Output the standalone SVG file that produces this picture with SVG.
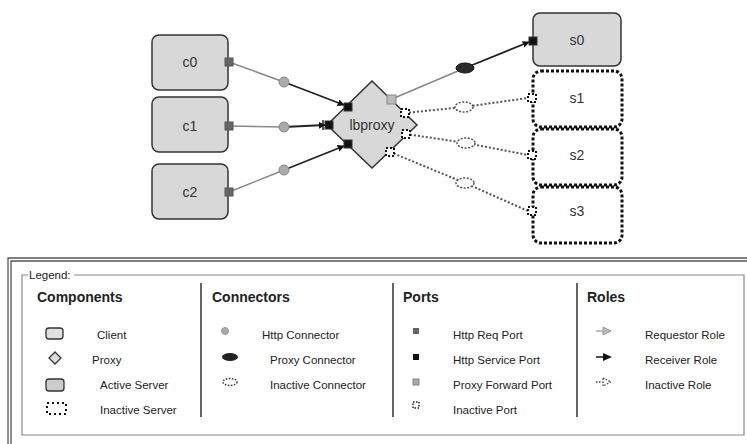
<svg xmlns="http://www.w3.org/2000/svg" width="747" height="444" viewBox="0 0 747 444">
<defs>
<style>
.node{fill:#d8d8d8;stroke:#333;stroke-width:1.5}
.inact{fill:#fff;stroke:#111;stroke-width:3;stroke-dasharray:3 2}
.lbl{font-family:"Liberation Sans",Arial,sans-serif;font-size:14px;fill:#333;text-anchor:middle;dominant-baseline:central}
.req{stroke:#888;stroke-width:1.5;fill:none}
.rcv{stroke:#222;stroke-width:1.8;fill:none}
.dot{stroke:#555;stroke-width:2;stroke-dasharray:2 2;fill:none}
.http{fill:#aaa;stroke:#888;stroke-width:1}
.svc{fill:#111;stroke:#333;stroke-width:1}
.hreq{fill:#666;stroke:#555;stroke-width:1}
.fwd{fill:#bbb;stroke:#888;stroke-width:1}
.iport{fill:#fff;stroke:#111;stroke-width:2;stroke-dasharray:2 2}
.iconn{fill:#fff;stroke:#555;stroke-width:1.5;stroke-dasharray:2 1.5}
.pconn{fill:#2a2a2a;stroke:#111;stroke-width:1}
.t{font-family:"Liberation Sans",Arial,sans-serif;font-size:11.5px;fill:#222}
.h{font-family:"Liberation Sans",Arial,sans-serif;font-size:14px;font-weight:bold;fill:#222}
.div{stroke:#333;stroke-width:1.5}
</style>
<marker id="arr" viewBox="0 0 10 10" refX="9" refY="5" markerWidth="7" markerHeight="7" orient="auto" markerUnits="userSpaceOnUse">
<path d="M0,0 L10,5 L0,10 z" fill="#111"/>
</marker>
<marker id="darr" viewBox="0 0 10 10" refX="9" refY="5" markerWidth="7" markerHeight="7" orient="auto" markerUnits="userSpaceOnUse">
<path d="M0,0 L10,5 L0,10 z" fill="none" stroke="#333" stroke-width="2" stroke-dasharray="2 2"/>
</marker>
</defs>
<rect width="747" height="444" fill="#fff"/>

<g id="connectors">
<line class="req" x1="229" y1="62" x2="284" y2="82"/>
<line class="rcv" x1="284" y1="82" x2="344" y2="105" marker-end="url(#arr)"/>
<line class="req" x1="229" y1="126" x2="284" y2="127"/>
<line class="rcv" x1="284" y1="127" x2="325" y2="125" marker-end="url(#arr)"/>
<line x1="323" y1="120" x2="323" y2="130" stroke="#222" stroke-width="1.5"/>
<line class="req" x1="229" y1="192" x2="284" y2="170"/>
<line class="rcv" x1="284" y1="170" x2="344" y2="146" marker-end="url(#arr)"/>
<line class="req" x1="392" y1="99" x2="465" y2="68"/>
<line class="rcv" x1="465" y1="68" x2="529" y2="42" marker-end="url(#arr)"/>
<polyline class="dot" points="405,113 464,107 528,98"/>
<polyline class="dot" points="406,134 466,143 528,155"/>
<polyline class="dot" points="390,152 465,183 528,211"/>
<circle class="http" cx="284" cy="82" r="5"/>
<circle class="http" cx="284" cy="127" r="5"/>
<circle class="http" cx="284" cy="170" r="5"/>
<ellipse class="pconn" cx="465" cy="68" rx="9" ry="5"/>
<ellipse class="iconn" cx="464" cy="107" rx="9" ry="5"/>
<ellipse class="iconn" cx="466" cy="143" rx="9" ry="5"/>
<ellipse class="iconn" cx="465" cy="183" rx="9" ry="5"/>
</g>

<g id="c0">
<rect class="node" x="152" y="35" width="76" height="55" rx="7"/>
<text class="lbl" x="190" y="62">c0</text>
<rect class="hreq" x="225" y="58" width="8" height="8"/>
</g>
<g id="c1">
<rect class="node" x="152" y="97" width="76" height="55" rx="7"/>
<text class="lbl" x="190" y="126">c1</text>
<rect class="hreq" x="225" y="122" width="8" height="8"/>
</g>
<g id="c2">
<rect class="node" x="152" y="164" width="76" height="55" rx="7"/>
<text class="lbl" x="190" y="192">c2</text>
<rect class="hreq" x="225" y="188" width="8" height="8"/>
</g>

<g id="lbproxy">
<polygon class="node" points="372,81 417,125 372,168 327,125"/>
<text class="lbl" x="372" y="125">lbproxy</text>
<rect class="svc" x="344" y="103" width="8" height="8"/>
<rect class="svc" x="325" y="121" width="8" height="8"/>
<rect class="svc" x="344" y="140" width="8" height="8"/>
<rect class="fwd" x="387" y="95" width="9" height="9"/>
<rect class="iport" x="401" y="109" width="8" height="8"/>
<rect class="iport" x="402" y="130" width="8" height="8"/>
<rect class="iport" x="386" y="148" width="8" height="8"/>
</g>

<g id="s0">
<rect class="node" x="533" y="13" width="88" height="53" rx="7"/>
<text class="lbl" x="577" y="40">s0</text>
<rect class="svc" x="529" y="37" width="8" height="8"/>
</g>
<g id="s1">
<rect class="inact" x="533" y="71" width="89" height="56" rx="8"/>
<text class="lbl" x="577" y="98">s1</text>
<rect class="iport" x="528" y="94" width="8" height="8"/>
</g>
<g id="s2">
<rect class="inact" x="533" y="129" width="89" height="56" rx="8"/>
<text class="lbl" x="577" y="155">s2</text>
<rect class="iport" x="528" y="151" width="8" height="8"/>
</g>
<g id="s3">
<rect class="inact" x="533" y="187" width="89" height="56" rx="8"/>
<text class="lbl" x="577" y="211">s3</text>
<rect class="iport" x="528" y="207" width="8" height="8"/>
</g>

<g id="legend">
<path d="M8,444 V258 H747 M11,444 V261 H747" fill="none" stroke="#555" stroke-width="1.3"/>
<path d="M28,275 H22 V435 H744 V275 H74" fill="none" stroke="#888" stroke-width="1.2"/>
<text class="t" x="29" y="279" font-size="11">Legend:</text>
<text class="h" x="37" y="302">Components</text>
<text class="h" x="212" y="302">Connectors</text>
<text class="h" x="403" y="302">Ports</text>
<text class="h" x="587" y="302">Roles</text>
<line class="div" x1="201" y1="283" x2="201" y2="417"/>
<line class="div" x1="393" y1="283" x2="393" y2="417"/>
<line class="div" x1="577" y1="283" x2="577" y2="417"/>

<rect x="46" y="328" width="17" height="11" rx="3" fill="#e0e0e0" stroke="#333" stroke-width="1.3"/>
<polygon points="55,352 61,358 55,364 49,358" fill="#ddd" stroke="#333" stroke-width="1.3"/>
<rect x="46" y="379" width="18" height="12" rx="3" fill="#ccc" stroke="#333" stroke-width="1.3"/>
<rect x="47" y="403" width="19" height="11" fill="none" stroke="#111" stroke-width="2" stroke-dasharray="2 3"/>
<text class="t" x="97" y="339">Client</text>
<text class="t" x="92" y="364">Proxy</text>
<text class="t" x="100" y="389">Active Server</text>
<text class="t" x="100" y="414">Inactive Server</text>

<circle cx="225" cy="331" r="3.5" fill="#aaa" stroke="#999"/>
<ellipse cx="230" cy="357" rx="8" ry="4" fill="#222"/>
<ellipse cx="230" cy="382" rx="7" ry="3.5" fill="none" stroke="#333" stroke-width="1.5" stroke-dasharray="1.5 1.5"/>
<text class="t" x="262" y="339">Http Connector</text>
<text class="t" x="270" y="364">Proxy Connector</text>
<text class="t" x="270" y="389">Inactive Connector</text>

<rect x="413" y="328" width="6" height="6" fill="#666"/>
<rect x="413" y="354" width="6" height="6" fill="#111"/>
<rect x="413" y="379" width="6" height="6" fill="#aaa" stroke="#888"/>
<rect x="413" y="402" width="6" height="6" fill="none" stroke="#222" stroke-width="1.5" stroke-dasharray="1.5 1.5"/>
<text class="t" x="453" y="339">Http Req Port</text>
<text class="t" x="453" y="364">Http Service Port</text>
<text class="t" x="453" y="389">Proxy Forward Port</text>
<text class="t" x="453" y="414">Inactive Port</text>

<line x1="596" y1="331" x2="604" y2="331" stroke="#999" stroke-width="1.3"/>
<polygon points="603,327 611,331 603,335" fill="#bbb" stroke="#999"/>
<line x1="596" y1="357" x2="604" y2="357" stroke="#111" stroke-width="1.5"/>
<polygon points="603,353 612,357 603,361" fill="#111"/>
<line x1="596" y1="382" x2="602" y2="382" stroke="#444" stroke-width="1.5" stroke-dasharray="1.5 1.5"/>
<polygon points="603,378 611,382 603,386" fill="none" stroke="#444" stroke-width="1.3" stroke-dasharray="1.5 1.5"/>
<text class="t" x="645" y="339">Requestor Role</text>
<text class="t" x="645" y="364">Receiver Role</text>
<text class="t" x="645" y="389">Inactive Role</text>
</g>
</svg>
